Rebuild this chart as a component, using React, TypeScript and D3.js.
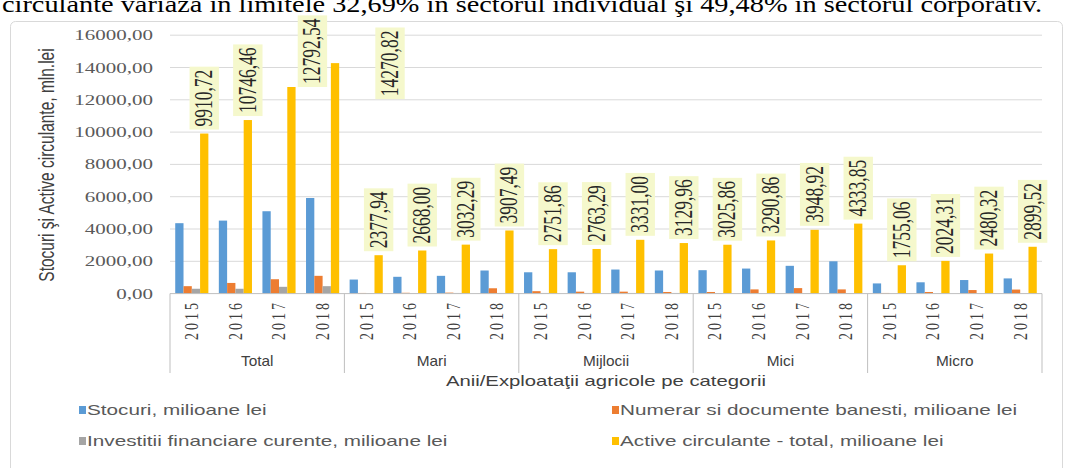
import React from "react";
import * as d3 from "d3";

// categories
const groups = ["Total", "Mari", "Mijlocii", "Mici", "Micro"];
const years = ["2015", "2016", "2017", "2018"];

// series (mil. lei), order: Total, Mari, Mijlocii, Mici, Micro x 2015..2018
const stocuri = [4360, 4520, 5100, 5920, 870, 1040, 1100, 1430, 1320, 1320, 1490, 1430, 1450, 1550, 1720, 2000, 630, 700, 840, 940];
const numerar = [460, 660, 890, 1100, 40, 50, 60, 330, 150, 120, 120, 100, 100, 260, 340, 260, 40, 100, 220, 250];
const investitii = [300, 300, 420, 460, 30, 30, 40, 40, 40, 40, 40, 40, 30, 30, 30, 30, 20, 20, 20, 20];
const active = [9910.72, 10746.46, 12792.54, 14270.82, 2377.94, 2668.0, 3032.29, 3907.49, 2751.86, 2763.29, 3331.0, 3129.96, 3025.86, 3290.86, 3948.92, 4333.85, 1755.06, 2024.31, 2480.32, 2899.52];

const seriesNames = [
  "Stocuri, milioane lei",
  "Numerar si documente banesti, milioane lei",
  "Investitii financiare curente, milioane lei",
  "Active circulante - total, milioane lei",
];
const seriesColors = ["#5b9bd5", "#ed7d31", "#a5a5a5", "#ffc000"];
const yTicks = [0, 2000, 4000, 6000, 8000, 10000, 12000, 14000, 16000];

const caption = "circulante variază în limitele 32,69% în sectorul individual şi 49,48% în sectorul corporativ.";

// the picture is stretched horizontally
const SX = 1.4;
const roFmt = d3.formatLocale({ decimal: ",", thousands: "", grouping: [3], currency: ["", ""] }).format(".2f");

const tr = (x: number, y: number, rot = false, sx = SX) =>
  `translate(${x},${y}) scale(${sx},1)${rot ? " rotate(-90)" : ""}`;

export default function App() {
  const W = 1069, H = 468;
  const plotL = 170, plotR = 1042, y0 = 293.6, yT = 35.2;

  const keys = groups.flatMap((g) => years.map((yr) => `${g}-${yr}`));
  const x = d3.scaleBand<string>().domain(keys).range([plotL, plotR]).paddingInner(0.24).paddingOuter(0.12);
  const xs = d3.scaleBand<number>().domain([0, 1, 2, 3]).range([0, x.bandwidth()]);
  const y = d3.scaleLinear().domain([0, 16000]).range([y0, yT]);
  const series = [stocuri, numerar, investitii, active];
  const step = x.step();

  const serif = "'Liberation Serif', 'Times New Roman', serif";
  const sans = "'Liberation Sans', Arial, sans-serif";
  const labFs = 17.5;

  // manually moved labels in the original (px)
  const nudge: Record<number, [number, number]> = { 2: [21, 4], 3: [55, 40] };

  return (
    <svg width={W} height={H} style={{ position: "absolute", left: 0, top: 0, background: "#fff" }}>
      <text x={2} y={12} fontFamily={serif} fontSize={24} fill="#000" textLength={1040} lengthAdjust="spacingAndGlyphs">
        {caption}
      </text>
      <rect x={10.5} y={21.5} width={1052} height={470} rx={5} fill="#fff" stroke="#d9d9d9" />

      {/* grid */}
      {yTicks.filter((t) => t > 0).map((t) => (
        <line key={t} x1={plotL} x2={plotR} y1={y(t)} y2={y(t)} stroke="#d9d9d9" strokeWidth={1} />
      ))}

      {/* y tick labels */}
      {yTicks.map((t) => (
        <text key={t} transform={tr(153, y(t) + 5)} textAnchor="end" fontFamily={serif} fontSize={15} fill="#595959">
          {roFmt(t)}
        </text>
      ))}

      {/* y title */}
      <text transform={tr(54, 165, true)} textAnchor="middle" fontFamily={sans} fontSize={15.5} fill="#404040">
        Stocuri şi Active circulante, mln.lei
      </text>

      {/* bars */}
      {series.map((vals, si) =>
        vals.map((v, i) => (
          <rect
            key={`${si}-${i}`}
            x={(x(keys[i]) as number) + (xs(si) as number)}
            y={y(v)}
            width={xs.bandwidth()}
            height={y0 - y(v)}
            fill={seriesColors[si]}
          />
        ))
      )}

      {/* axis + group separators */}
      <line x1={plotL} x2={plotR} y1={y0} y2={y0} stroke="#bfbfbf" />
      {d3.range(groups.length + 1).map((k) => (
        <line key={k} x1={plotL + k * 4 * step} x2={plotL + k * 4 * step} y1={y0} y2={373} stroke="#bfbfbf" />
      ))}

      {/* year labels */}
      {keys.map((k, i) => (
        <text
          key={k}
          transform={tr((x(k) as number) + x.bandwidth() / 2, 300, true)}
          textAnchor="end"
          dominantBaseline="central"
          fontFamily={serif}
          fontSize={14}
          letterSpacing={3}
          fill="#404040"
        >
          {years[i % 4]}
        </text>
      ))}

      {/* group labels */}
      {groups.map((g, k) => (
        <text key={g} transform={tr(plotL + (k * 4 + 2) * step, 366, false, 1.1)} textAnchor="middle" fontFamily={sans} fontSize={14} fill="#404040">
          {g}
        </text>
      ))}

      <text transform={tr(606, 386)} textAnchor="middle" fontFamily={sans} fontSize={14.5} fill="#404040">
        Anii/Exploataţii agricole pe categorii
      </text>

      {/* value labels on the total series */}
      {active.map((v, i) => {
        const s = roFmt(v);
        const digits = s.replace(",", "").length;
        const L = labFs * (digits * 0.5 + 0.25);
        const [dx, dy] = nudge[i] || [0, 0];
        const cx = (x(keys[i]) as number) + (xs(3) as number) + xs.bandwidth() / 2 + dx;
        const by = y(v) - 7 + dy;
        return (
          <g key={i} transform={tr(cx, by, true)}>
            <rect x={-3} y={-10.5} width={L + 6} height={21} fill="#f5f8cc" />
            <text x={0} y={0} dominantBaseline="central" fontFamily={serif} fontSize={labFs} fill="#262626">
              {s}
            </text>
          </g>
        );
      })}

      {/* legend */}
      {seriesNames.map((n, i) => {
        const lx = i % 2 === 0 ? 79 : 612;
        const ly = i < 2 ? 410 : 441;
        return (
          <g key={n}>
            <rect x={lx} y={ly - 4} width={7} height={8} fill={seriesColors[i]} />
            <text transform={tr(lx + 8, ly + 5)} fontFamily={sans} fontSize={14.8} fill="#595959">
              {n}
            </text>
          </g>
        );
      })}
    </svg>
  );
}
